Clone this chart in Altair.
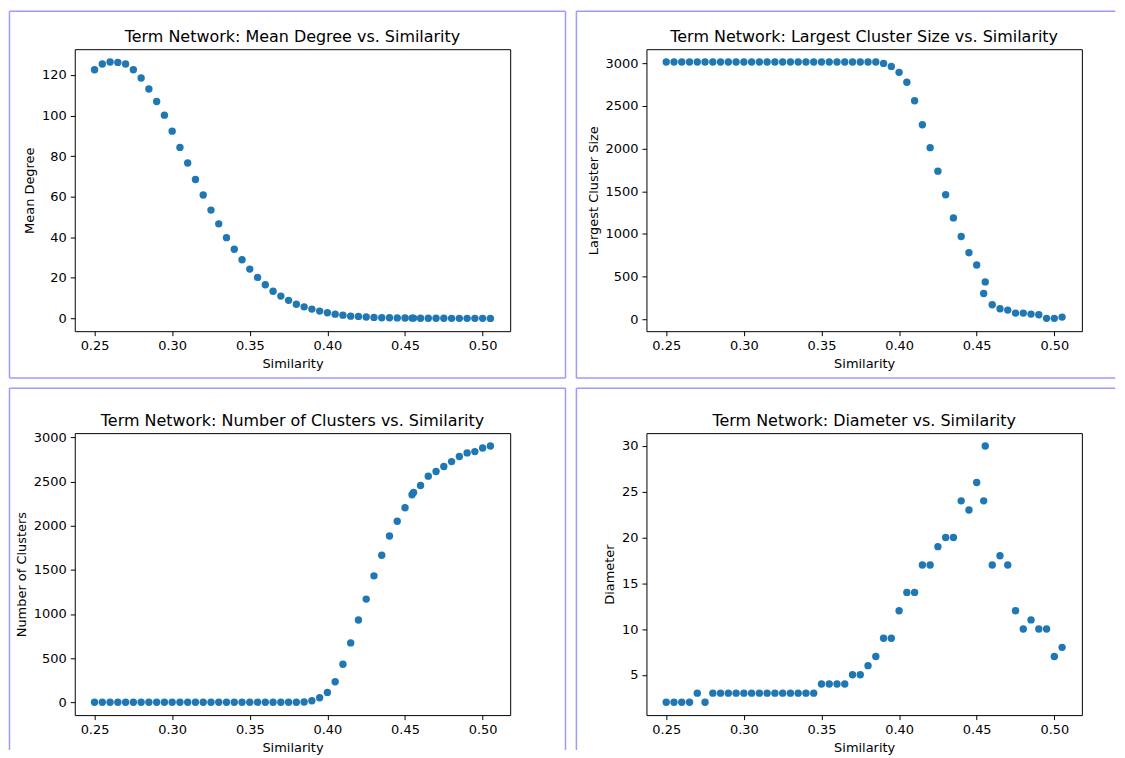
import altair as alt
import pandas as pd

# ---------------- data ----------------
similarity = [0.25, 0.255, 0.26, 0.265, 0.27, 0.275, 0.28, 0.285, 0.29, 0.295,
              0.30, 0.305, 0.31, 0.315, 0.32, 0.325, 0.33, 0.335, 0.34, 0.345,
              0.35, 0.355, 0.36, 0.365, 0.37, 0.375, 0.38, 0.385, 0.39, 0.395,
              0.40, 0.405, 0.41, 0.415, 0.42, 0.425, 0.43, 0.435, 0.44, 0.445,
              0.45, 0.4545, 0.4555, 0.46, 0.465, 0.47, 0.475, 0.48, 0.485, 0.49,
              0.495, 0.50, 0.505]

mean_degree = [122.6, 125.4, 126.4, 126.2, 125.4, 122.6, 118.5, 113.1, 106.9, 100.2,
               92.3, 84.3, 76.6, 68.5, 60.8, 53.4, 46.6, 39.8, 34.1, 28.9,
               24.3, 20.2, 16.6, 13.4, 11.0, 8.9, 7.0, 5.7, 4.6, 3.6,
               2.8, 2.1, 1.6, 1.1, 1.0, 0.7, 0.5, 0.3, 0.3, 0.25,
               0.2, 0.15, 0.15, 0.1, 0.08, 0.06, 0.05, 0.04, 0.03, 0.03,
               0.02, 0.02, 0.01]

largest_cluster = [3012, 3012, 3012, 3012, 3012, 3012, 3012, 3012, 3012, 3012,
                   3012, 3012, 3012, 3012, 3012, 3012, 3012, 3012, 3012, 3012,
                   3012, 3012, 3012, 3012, 3012, 3012, 3012, 3012, 2996, 2961,
                   2891, 2775, 2558, 2278, 2010, 1735, 1459, 1188, 970, 780,
                   636, 303, 439, 171, 124, 109, 74, 74, 62, 54,
                   12, 12, 27]

num_clusters = [1, 1, 1, 1, 1, 1, 1, 1, 1, 1,
                1, 1, 1, 1, 1, 1, 1, 1, 1, 1,
                1, 1, 1, 1, 1, 1, 2, 4, 19, 53,
                113, 233, 432, 673, 932, 1169, 1432, 1665, 1883, 2049,
                2203, 2349, 2376, 2455, 2560, 2612, 2669, 2725, 2782, 2823,
                2838, 2879, 2902]

diameter = [2, 2, 2, 2, 3, 2, 3, 3, 3, 3,
            3, 3, 3, 3, 3, 3, 3, 3, 3, 3,
            4, 4, 4, 4, 5, 5, 6, 7, 9, 9,
            12, 14, 14, 17, 17, 19, 20, 20, 24, 23,
            26, 24, 30, 17, 18, 17, 12, 10, 11, 10,
            10, 7, 8]

x_ticks = [0.25, 0.30, 0.35, 0.40, 0.45, 0.50]
x_domain = [0.23725, 0.51775]

panels = [
    ("mean_degree", "Mean Degree", "Term Network: Mean Degree vs. Similarity",
     [-6.3, 132.7], [0, 20, 40, 60, 80, 100, 120]),
    ("largest_cluster", "Largest Cluster Size", "Term Network: Largest Cluster Size vs. Similarity",
     [-138, 3162], [0, 500, 1000, 1500, 2000, 2500, 3000]),
    ("num_clusters", "Number of Clusters", "Term Network: Number of Clusters vs. Similarity",
     [-144, 3047], [0, 500, 1000, 1500, 2000, 2500, 3000]),
    ("diameter", "Diameter", "Term Network: Diameter vs. Similarity",
     [0.6, 31.4], [5, 10, 15, 20, 25, 30]),
]

df = pd.DataFrame({
    "similarity": similarity,
    "mean_degree": mean_degree,
    "largest_cluster": largest_cluster,
    "num_clusters": num_clusters,
    "diameter": diameter,
})
one = pd.DataFrame({"k": [0]})

# ---------------- styling / layout ----------------
W, H = 437, 283
BORDER = "#9a9aff"
FONT = "DejaVu Sans"

# border segments (pixel offsets relative to each plot area): x, x2, y, y2
borders = [
    [(-65.5, 492.5, -38, -38), (-65.5, 492.5, 330, 330),
     (-65.5, -65.5, -38, 330), (492.5, 492.5, -38, 330)],
    [(-70.3, 470.5, -38, -38), (-70.3, 470.5, 330, 330),
     (-70.3, -70.3, -38, 330)],
    [(-65.5, 492.5, -45, -45), (-65.5, -65.5, -45, 318), (492.5, 492.5, -45, 318)],
    [(-70.3, 470.5, -45, -45), (-70.3, -70.3, -45, 318)],
]


def rule(x, x2, y, y2):
    return alt.Chart(one).mark_rule(color=BORDER, strokeWidth=1.5).encode(
        x=alt.value(x), x2=alt.value(x2), y=alt.value(y), y2=alt.value(y2))


def panel(i):
    field, ytitle, title, ydom, yticks = panels[i]
    pts = alt.Chart(df).mark_circle(size=55, color="#1f77b4", opacity=1).encode(
        x=alt.X("similarity:Q", title="Similarity",
                scale=alt.Scale(domain=x_domain, nice=False, zero=False),
                axis=alt.Axis(values=x_ticks, format=".2f")),
        y=alt.Y(f"{field}:Q", title=ytitle,
                scale=alt.Scale(domain=ydom, nice=False, zero=False),
                axis=alt.Axis(values=yticks, format="d")),
    )
    ttl = alt.Chart(one).mark_text(
        text=title, font=FONT, fontSize=16, color="black",
        align="center", baseline="alphabetic",
    ).encode(x=alt.value(W / 2), y=alt.value(-7.5))
    layers = [rule(*b) for b in borders[i]] + [ttl, pts]
    return alt.layer(*layers).properties(width=W, height=H)


top = alt.hconcat(panel(0), panel(1), spacing=7.75)
bottom = alt.hconcat(panel(2), panel(3), spacing=7.75)

chart = alt.vconcat(top, bottom, spacing=6.3).properties(
    padding=0, background="white"
).configure_view(
    stroke="black", strokeWidth=1
).configure_axis(
    domain=False, grid=False,
    labelFont=FONT, labelFontSize=13, labelColor="black", labelPadding=4,
    titleFont=FONT, titleFontSize=13, titleFontWeight="normal", titleColor="black",
    titlePadding=5,
    tickColor="black", tickSize=4.5, tickWidth=1,
)

chart.save("out.html", embed_options={"renderer": "svg", "actions": False})
